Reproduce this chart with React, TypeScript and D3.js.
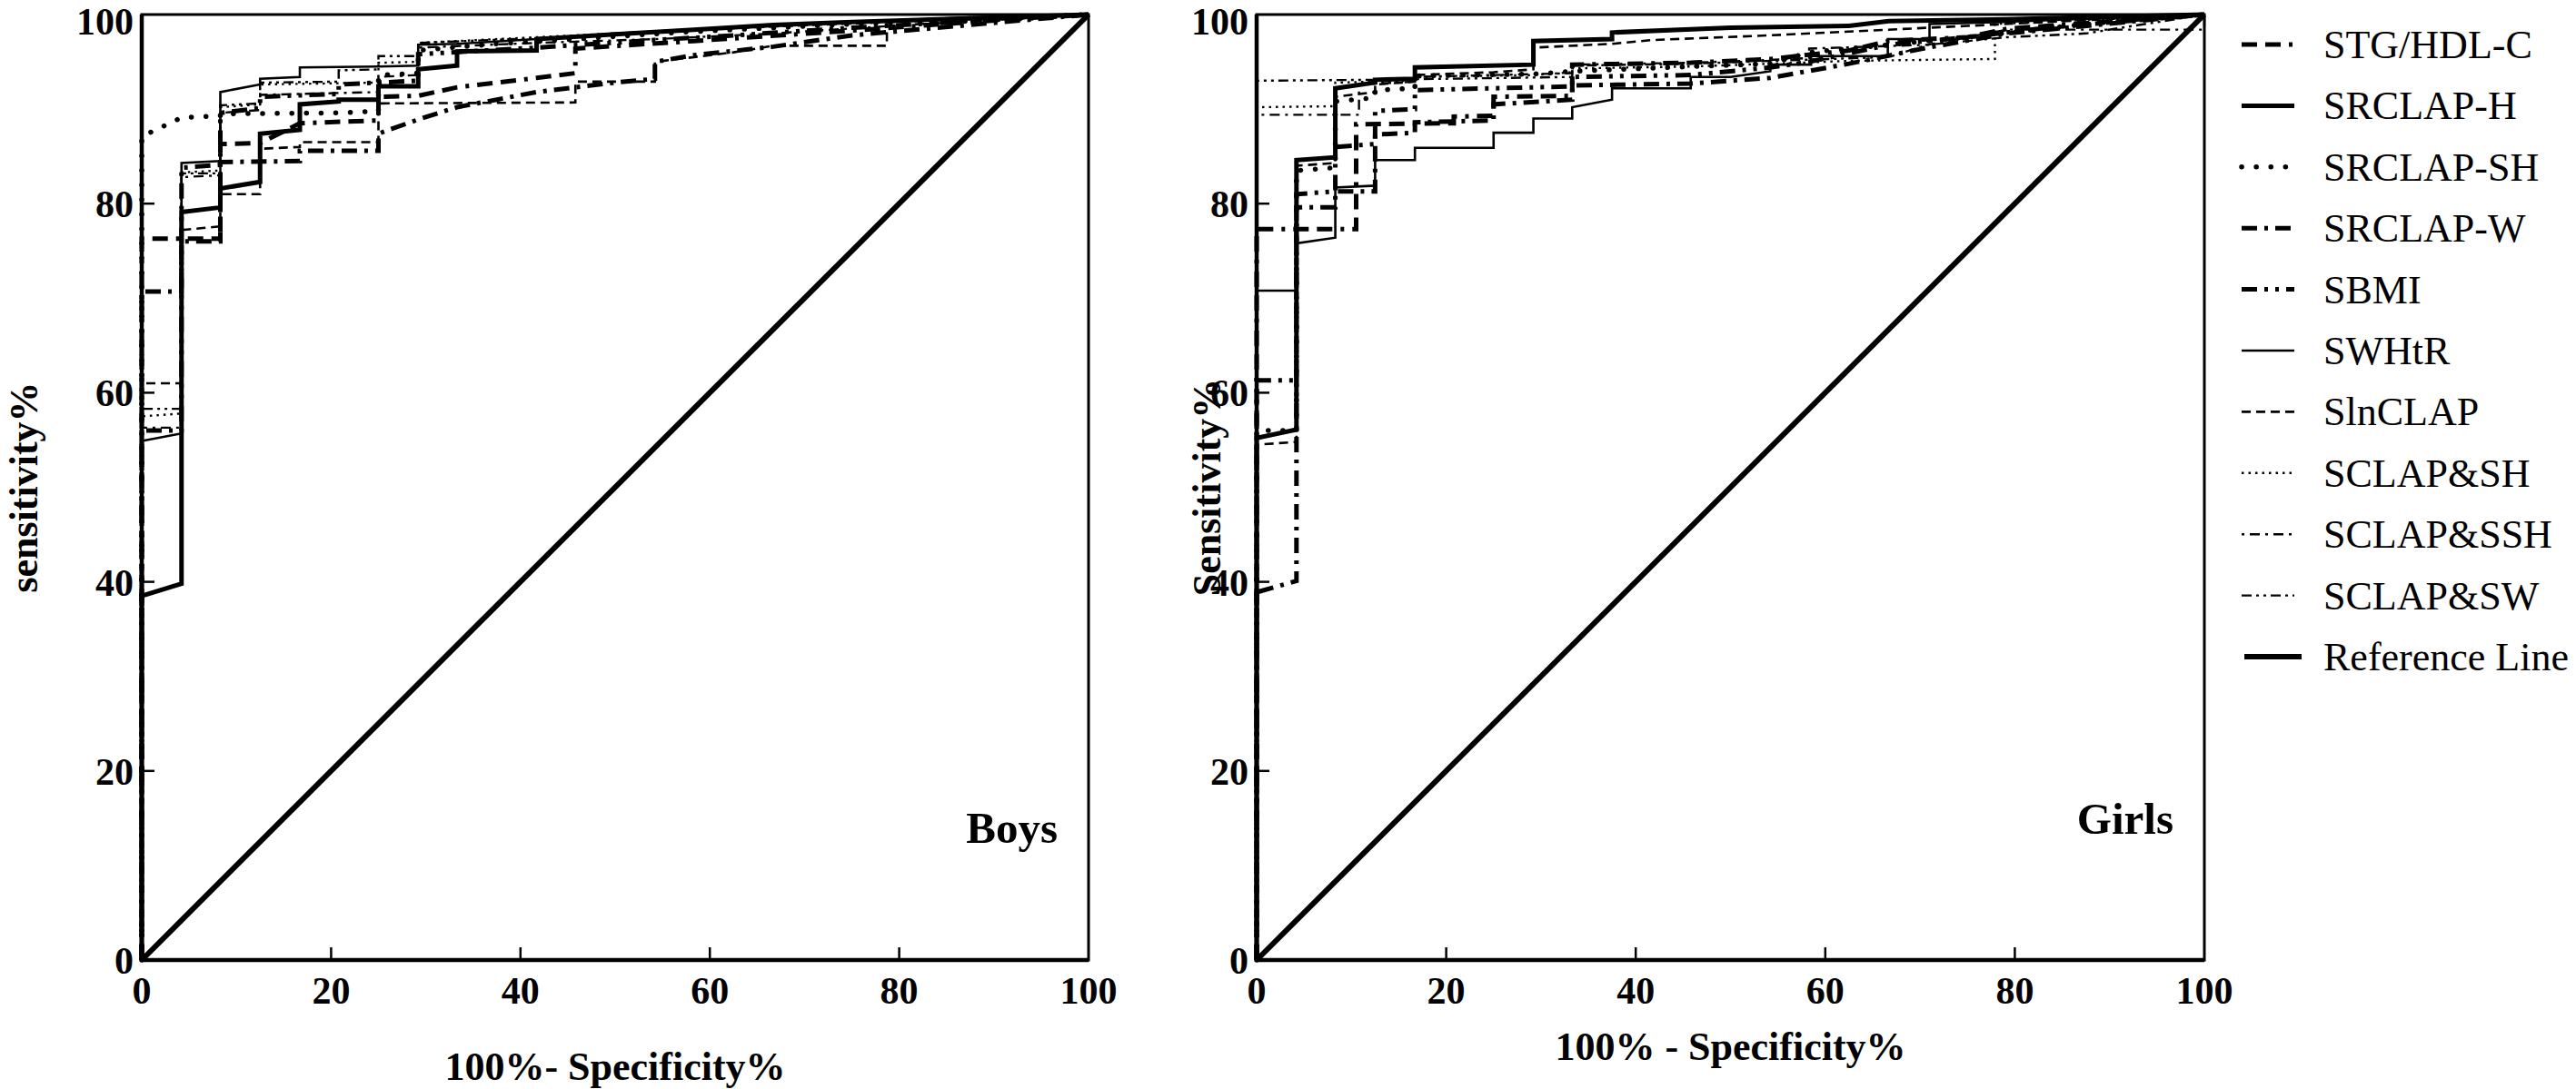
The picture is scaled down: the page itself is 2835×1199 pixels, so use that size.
import * as d3 from "d3";

type Pt = [number, number];

const W = 2835;
const H = 1199;

const tickValues = [0, 20, 40, 60, 80, 100];
const seriesNames = [
  "STG/HDL-C",
  "SRCLAP-H",
  "SRCLAP-SH",
  "SRCLAP-W",
  "SBMI",
  "SWHtR",
  "SlnCLAP",
  "SCLAP&SH",
  "SCLAP&SSH",
  "SCLAP&SW",
];

// Boys: [100% - specificity, sensitivity]
const boysSTG: Pt[] = [[0, 0], [0, 76.3], [8.3, 76.3], [8.3, 86.3], [12.5, 86.4], [16.7, 88.5], [25, 88.8], [25, 91.3], [29.2, 91.4], [33.3, 92.3], [41.7, 93.3], [45.8, 93.8], [45.8, 96.4], [58.3, 97.2], [75, 98.3], [87.5, 99.2], [100, 100]];
const boysSRCLAPH: Pt[] = [[0, 0], [0, 38.5], [4.2, 39.8], [4.2, 79.1], [8.3, 79.6], [8.3, 81.6], [12.5, 82.3], [12.5, 87.4], [16.7, 87.8], [16.7, 90.5], [20.8, 90.8], [20.8, 91], [25, 91], [25, 92.4], [29.2, 92.4], [29.2, 94.2], [33.3, 94.6], [33.3, 96.1], [41.7, 96.2], [41.7, 97.4], [50, 97.9], [58.3, 98.4], [66.7, 98.9], [75, 99.2], [87.5, 99.6], [100, 100]];
const boysSRCLAPSH: Pt[] = [[0, 0], [0, 87.1], [4.2, 89.1], [8.3, 89.3], [8.3, 89.5], [20.8, 89.6], [25, 89.8], [25, 93.6], [29.2, 93.8], [29.2, 96.2], [37.5, 96.9], [45.8, 97.4], [58.3, 98.2], [75, 99], [100, 100]];
const boysSRCLAPW: Pt[] = [[0, 0], [0, 70.7], [4.2, 70.7], [4.2, 76], [8.3, 76], [8.3, 84.4], [16.7, 84.5], [16.7, 85.6], [25, 85.6], [25, 87.4], [29.2, 88.9], [33.3, 90.2], [37.5, 91], [41.7, 91.8], [45.8, 92.3], [50, 92.8], [54.2, 93.2], [54.2, 95], [58.3, 95.7], [66.7, 96.6], [75, 97.8], [100, 100]];
const boysSBMI: Pt[] = [[0, 0], [0, 56], [4.2, 56], [4.2, 83.8], [8.3, 84.1], [8.3, 89.6], [12.5, 90.1], [12.5, 91.3], [20.8, 91.6], [20.8, 92.6], [29.2, 93], [29.2, 95.8], [41.7, 96.5], [54.2, 97.3], [62.5, 97.8], [75, 98.6], [100, 100]];
const boysSWHtR: Pt[] = [[0, 0], [0, 54.9], [4.2, 55.7], [4.2, 84.3], [8.3, 84.5], [8.3, 91.8], [12.5, 92.6], [12.5, 93.2], [16.7, 93.4], [16.7, 94.4], [25, 94.5], [29.2, 94.6], [29.2, 96.8], [33.3, 96.9], [41.7, 97.4], [50, 98], [62.5, 98.6], [75, 99.2], [87.5, 99.7], [100, 100]];
const boysSlnCLAP: Pt[] = [[0, 0], [0, 61], [4.2, 61], [4.2, 77.2], [8.3, 77.6], [8.3, 81], [12.5, 81], [12.5, 85.8], [16.7, 86], [16.7, 86.5], [25, 86.5], [25, 90.6], [45.8, 90.7], [45.8, 92.9], [54.2, 92.9], [54.2, 95], [62.5, 96], [66.7, 96.7], [78.7, 96.7], [78.7, 98.8], [100, 100]];
const boysSCLAPSH: Pt[] = [[0, 0], [0, 57.5], [4.2, 57.8], [4.2, 83.3], [8.3, 83.5], [8.3, 90.2], [12.5, 90.5], [12.5, 92.6], [25, 92.8], [25, 94.9], [29.2, 95], [29.2, 97], [41.7, 97.6], [58.3, 98.4], [75, 99.2], [100, 100]];
const boysSCLAPSSH: Pt[] = [[0, 0], [0, 56.3], [4.2, 56.3], [4.2, 82.8], [8.3, 83], [8.3, 89.6], [12.5, 89.9], [12.5, 91.5], [25, 91.8], [25, 93.4], [29.2, 93.6], [29.2, 96.5], [41.7, 97], [54.2, 97.4], [66.7, 98], [79.2, 98.8], [100, 100]];
const boysSCLAPSW: Pt[] = [[0, 0], [0, 58.3], [4.2, 58.3], [4.2, 83.2], [8.3, 83.2], [8.3, 90.4], [12.5, 90.6], [12.5, 92.8], [20.8, 92.9], [20.8, 94.1], [25, 94.2], [25, 95.6], [29.2, 95.6], [29.2, 97], [41.7, 97.5], [58.3, 98.4], [79.2, 99.2], [100, 100]];

// Girls
const girlsSTG: Pt[] = [[0, 0], [0, 77.3], [10.5, 77.3], [10.5, 88.4], [20.8, 88.5], [20.8, 89.2], [25, 89.3], [25, 91.3], [33.3, 91.4], [33.3, 94.7], [45.8, 94.9], [54.2, 95.3], [62.5, 96.2], [66.7, 97.2], [75, 97.6], [79.2, 98.5], [100, 100]];
const girlsSRCLAPH: Pt[] = [[0, 0], [0, 55.2], [4.2, 56.1], [4.2, 84.6], [8.3, 84.9], [8.3, 92.2], [12.5, 92.8], [12.5, 93.1], [16.7, 93.2], [16.7, 94.4], [29.2, 94.7], [29.2, 97.2], [37.5, 97.4], [37.5, 98.1], [50, 98.6], [62.5, 98.8], [66.7, 99.3], [79.2, 99.5], [100, 100]];
const girlsSRCLAPSH: Pt[] = [[0, 0], [0, 56], [4.2, 56], [4.2, 83.5], [8.3, 83.8], [8.3, 90.8], [12.5, 91.2], [12.5, 92], [16.7, 92.2], [16.7, 93.5], [29.2, 93.7], [33.3, 94], [45.8, 94.5], [54.2, 94.8], [58.3, 96], [66.7, 96.8], [75, 97.6], [87.5, 99], [100, 100]];
const girlsSRCLAPW: Pt[] = [[0, 0], [0, 38.9], [4.2, 40.1], [4.2, 79.6], [8.3, 79.6], [8.3, 81.3], [12.5, 81.3], [12.5, 87.3], [16.7, 87.5], [16.7, 88.6], [25, 88.8], [25, 90.5], [33.3, 91], [33.3, 92.5], [45.8, 92.7], [54.2, 93.3], [62.5, 94.8], [70.8, 96.5], [79.2, 98], [100, 100]];
const girlsSBMI: Pt[] = [[0, 0], [0, 61.3], [4.2, 61.3], [4.2, 81], [8.3, 81.3], [8.3, 86], [12.5, 86.3], [12.5, 89.8], [16.7, 90], [16.7, 92], [25, 92.2], [33.3, 92.4], [33.3, 93.4], [45.8, 93.6], [50, 94], [54.2, 94.4], [58.3, 95], [66.7, 96.8], [75, 97.6], [83.3, 98.6], [100, 100]];
const girlsSWHtR: Pt[] = [[0, 0], [0, 70.8], [4.2, 70.8], [4.2, 75.8], [8.3, 76.4], [8.3, 81.7], [12.5, 81.9], [12.5, 84.6], [16.7, 84.6], [16.7, 85.9], [25, 85.9], [25, 87.5], [29.2, 87.5], [29.2, 89], [33.3, 89], [33.3, 90.2], [37.5, 91], [37.5, 92.2], [45.8, 92.2], [45.8, 93.4], [50, 93.4], [54.2, 94], [54.2, 94.7], [58.5, 94.7], [58.5, 95.6], [66.6, 95.6], [66.6, 97.4], [71, 97.4], [71, 99], [78, 99.2], [100, 100]];
const girlsSlnCLAP: Pt[] = [[0, 0], [0, 54.5], [4.2, 54.8], [4.2, 84], [8.3, 84.3], [8.3, 91.3], [12.5, 91.8], [12.5, 92.6], [16.7, 92.9], [16.7, 93.6], [25, 93.9], [29.2, 94.2], [29.2, 96.5], [37.5, 96.9], [41.7, 97.3], [54.2, 97.8], [62.5, 98.2], [75, 98.8], [100, 100]];
const girlsSCLAPSH: Pt[] = [[0, 0], [0, 90.2], [8.3, 90.3], [8.3, 92.8], [16.7, 93], [16.7, 93.4], [29.2, 93.6], [33.3, 93.9], [33.3, 94.3], [45.8, 94.5], [54.2, 94.8], [62.5, 95.1], [77.9, 95.3], [77.9, 99], [100, 100]];
const girlsSCLAPSSH: Pt[] = [[0, 0], [0, 89.4], [10.8, 89.4], [10.8, 92.6], [16.7, 92.9], [16.7, 93.4], [25, 93.6], [33.3, 93.8], [33.3, 94.7], [45.8, 94.9], [54.2, 95.2], [58.3, 95.4], [58.3, 96.4], [70.8, 96.8], [79.2, 98.4], [100, 98.4], [100, 100]];
const girlsSCLAPSW: Pt[] = [[0, 0], [0, 93], [12.5, 93.1], [33.3, 93.4], [33.3, 94.6], [45.8, 94.8], [54.2, 95.1], [66.7, 95.5], [70.8, 96.8], [79.2, 97.6], [87.5, 98], [100, 100]];

const referenceLine: Pt[] = [[0, 0], [100, 100]];

const boysCurves = [boysSTG, boysSRCLAPH, boysSRCLAPSH, boysSRCLAPW, boysSBMI, boysSWHtR, boysSlnCLAP, boysSCLAPSH, boysSCLAPSSH, boysSCLAPSW];
const girlsCurves = [girlsSTG, girlsSRCLAPH, girlsSRCLAPSH, girlsSRCLAPW, girlsSBMI, girlsSWHtR, girlsSlnCLAP, girlsSCLAPSH, girlsSCLAPSSH, girlsSCLAPSW];

// line styles, same order as seriesNames
const lineStyles = [
  { width: 5, dash: "17 9 17 9 4 9", cap: "butt" },
  { width: 5, dash: "", cap: "butt" },
  { width: 5.5, dash: "0.1 16", cap: "round" },
  { width: 5, dash: "17 8 4 8", cap: "butt" },
  { width: 5, dash: "17 8 4 8 4 8", cap: "butt" },
  { width: 2.6, dash: "", cap: "butt" },
  { width: 2.6, dash: "10 6", cap: "butt" },
  { width: 2.4, dash: "2.5 5", cap: "butt" },
  { width: 2.4, dash: "3 6 11 6", cap: "butt" },
  { width: 2.4, dash: "11 5 3 5 3 5", cap: "butt" },
];

const fontFamily = "'Liberation Serif', 'Times New Roman', serif";
const yTop = 16;
const yBottom = 1057;

type PanelProps = {
  left: number;
  right: number;
  curves: Pt[][];
  yTitle: string;
  yTitleX: number;
  xTitle: string;
  xTitleY: number;
  label: string;
  labelY: number;
};

function Panel({ left, right, curves, yTitle, yTitleX, xTitle, xTitleY, label, labelY }: PanelProps) {
  const x = d3.scaleLinear().domain([0, 100]).range([left, right]);
  const y = d3.scaleLinear().domain([0, 100]).range([yBottom, yTop]);
  const line = d3
    .line<Pt>()
    .x((d) => x(d[0]))
    .y((d) => y(d[1]));

  return (
    <g>
      <rect x={left} y={yTop} width={right - left} height={yBottom - yTop} fill="none" stroke="#000" strokeWidth={3} />

      <path d={line(referenceLine) ?? ""} fill="none" stroke="#000" strokeWidth={6} />

      {curves.map((curve, i) => (
        <path
          key={seriesNames[i]}
          d={line(curve) ?? ""}
          fill="none"
          stroke="#000"
          strokeWidth={lineStyles[i].width}
          strokeDasharray={lineStyles[i].dash || undefined}
          strokeLinecap={lineStyles[i].cap as "butt" | "round"}
          strokeLinejoin="miter"
        />
      ))}

      <line x1={left} x2={left} y1={yTop} y2={yBottom} stroke="#000" strokeWidth={4.5} />
      <line x1={left} x2={right} y1={yBottom} y2={yBottom} stroke="#000" strokeWidth={4.5} />

      {tickValues.map((t) => (
        <g key={`y${t}`}>
          {t > 0 && t < 100 && <line x1={left} x2={left + 14} y1={y(t)} y2={y(t)} stroke="#000" strokeWidth={2.5} />}
          <text
            x={left - 9}
            y={Math.max(y(t) + 15, 38)}
            textAnchor="end"
            fontSize={42}
            fontWeight="bold"
            fontFamily={fontFamily}
          >
            {t}
          </text>
        </g>
      ))}
      {tickValues.map((t) => (
        <g key={`x${t}`}>
          {t > 0 && t < 100 && <line x1={x(t)} x2={x(t)} y1={yBottom} y2={yBottom - 14} stroke="#000" strokeWidth={2.5} />}
          <text x={x(t)} y={1105} textAnchor="middle" fontSize={42} fontWeight="bold" fontFamily={fontFamily}>
            {t}
          </text>
        </g>
      ))}

      <text
        transform={`translate(${yTitleX},${(yTop + yBottom) / 2}) rotate(-90)`}
        textAnchor="middle"
        fontSize={44}
        fontWeight="bold"
        fontFamily={fontFamily}
      >
        {yTitle}
      </text>
      <text x={(left + right) / 2} y={xTitleY} textAnchor="middle" fontSize={44} fontWeight="bold" fontFamily={fontFamily}>
        {xTitle}
      </text>
      <text x={right - 34} y={labelY} textAnchor="end" fontSize={49} fontWeight="bold" fontFamily={fontFamily}>
        {label}
      </text>
    </g>
  );
}

const legendY = d3.scalePoint<string>().domain(seriesNames.concat("Reference Line")).range([49, 723]);

export default function App() {
  return (
    <svg
      width={W}
      height={H}
      viewBox={`0 0 ${W} ${H}`}
      style={{ position: "absolute", left: 0, top: 0, background: "#fff" }}
    >
      <rect width={W} height={H} fill="#fff" />
      <Panel
        left={156}
        right={1198}
        curves={boysCurves}
        yTitle="sensitivity%"
        yTitleX={41}
        xTitle="100%- Specificity%"
        xTitleY={1189}
        label="Boys"
        labelY={928}
      />
      <Panel
        left={1383}
        right={2426}
        curves={girlsCurves}
        yTitle="Sensitivity%"
        yTitleX={1343}
        xTitle="100% - Specificity%"
        xTitleY={1167}
        label="Girls"
        labelY={918}
      />

      <g fontFamily={fontFamily} fontSize={44}>
        {seriesNames.map((name, i) => (
          <g key={name} transform={`translate(0,${legendY(name)})`}>
            <line
              x1={2467}
              x2={2525}
              stroke="#000"
              strokeWidth={lineStyles[i].width}
              strokeDasharray={lineStyles[i].dash || undefined}
              strokeLinecap={lineStyles[i].cap as "butt" | "round"}
            />
            <text x={2557} y={15}>
              {name}
            </text>
          </g>
        ))}
        <g transform={`translate(0,${legendY("Reference Line")})`}>
          <line x1={2470} x2={2533} stroke="#000" strokeWidth={6} />
          <text x={2557} y={15}>
            Reference Line
          </text>
        </g>
      </g>
    </svg>
  );
}
